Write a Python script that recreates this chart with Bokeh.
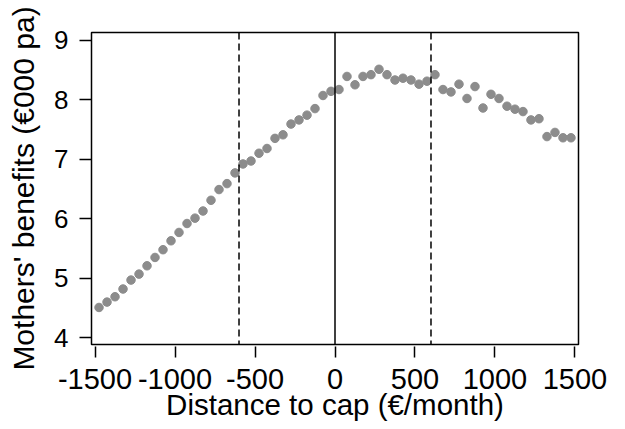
from bokeh.plotting import figure
from bokeh.models import Span, Range1d, FixedTicker
from bokeh.embed import file_html
from bokeh.resources import INLINE

# Bin centres (distance to cap, EUR/month)
x_bins = [-1475, -1425, -1375, -1325, -1275, -1225, -1175, -1125, -1075, -1025,
          -975, -925, -875, -825, -775, -725, -675, -625, -575, -525,
          -475, -425, -375, -325, -275, -225, -175, -125, -75, -25,
          25, 75, 125, 175, 225, 275, 325, 375, 425, 475,
          525, 575, 625, 675, 725, 775, 825, 875, 925, 975,
          1025, 1075, 1125, 1175, 1225, 1275, 1325, 1375, 1425, 1475]

# Mothers' benefits (EUR 000 per annum)
benefits = [4.51, 4.60, 4.69, 4.82, 4.97, 5.07, 5.21, 5.35, 5.48, 5.63,
            5.77, 5.92, 6.01, 6.13, 6.31, 6.49, 6.59, 6.77, 6.92, 6.97,
            7.10, 7.18, 7.35, 7.41, 7.59, 7.66, 7.74, 7.85, 8.07, 8.14,
            8.17, 8.39, 8.25, 8.39, 8.42, 8.51, 8.42, 8.33, 8.36, 8.33,
            8.26, 8.31, 8.42, 8.17, 8.13, 8.26, 8.02, 8.22, 7.86, 8.09,
            8.02, 7.89, 7.84, 7.80, 7.66, 7.68, 7.38, 7.45, 7.36, 7.36]

x_ticks = [-1500, -1000, -500, 0, 500, 1000, 1500]
x_tick_labels = ["-1500", "-1000", "-500", "0", "500", "1000", "1500"]
y_ticks = [4, 5, 6, 7, 8, 9]
bandwidth_lines = [-600, 600]
cap_line = 0

FONT = "Liberation Sans"

p = figure(width=625, height=429, output_backend="svg", toolbar_location=None,
           x_range=Range1d(-1522, 1522), y_range=Range1d(3.888, 9.128),
           min_border_left=91, min_border_right=47, min_border_top=32,
           min_border_bottom=85)

p.background_fill_color = "white"
p.border_fill_color = "white"
p.outline_line_color = "black"
p.outline_line_width = 1.5
p.outline_line_alpha = 1.0
p.xgrid.visible = False
p.ygrid.visible = False

p.scatter(x_bins, benefits, size=8.5, color="#8c8c8c", line_color="#8c8c8c")

for xv in bandwidth_lines:
    p.add_layout(Span(location=xv, dimension="height", line_color="black",
                      line_width=1.5, line_dash="7 4"))
p.add_layout(Span(location=cap_line, dimension="height", line_color="black",
                  line_width=1.5))

p.xaxis.ticker = FixedTicker(ticks=x_ticks)
p.xaxis.major_label_overrides = dict(zip(x_ticks, x_tick_labels))
p.yaxis.ticker = FixedTicker(ticks=y_ticks)
p.xaxis.axis_label = "Distance to cap (€/month)"
p.yaxis.axis_label = "Mothers' benefits (€000 pa)"

for ax in (p.xaxis[0], p.yaxis[0]):
    ax.axis_line_color = None
    ax.major_tick_line_color = "black"
    ax.major_tick_line_width = 1.5
    ax.minor_tick_line_color = None
    ax.major_label_text_font = FONT
    ax.major_label_text_color = "black"
    ax.axis_label_text_font = FONT
    ax.axis_label_text_font_style = "normal"
    ax.axis_label_text_color = "black"

p.xaxis.major_tick_in = -2
p.xaxis.major_tick_out = 13
p.xaxis.major_label_text_font_size = "29px"
p.xaxis.axis_label_text_font_size = "29.5px"
p.xaxis.major_label_standoff = 11
p.xaxis.axis_label_standoff = -4

p.yaxis.major_tick_in = 0
p.yaxis.major_tick_out = 12
p.yaxis.major_label_text_font_size = "26px"
p.yaxis.axis_label_text_font_size = "30px"
p.yaxis.major_label_standoff = 11
p.yaxis.axis_label_standoff = 11

open("out.html", "w").write(file_html(p, INLINE))
